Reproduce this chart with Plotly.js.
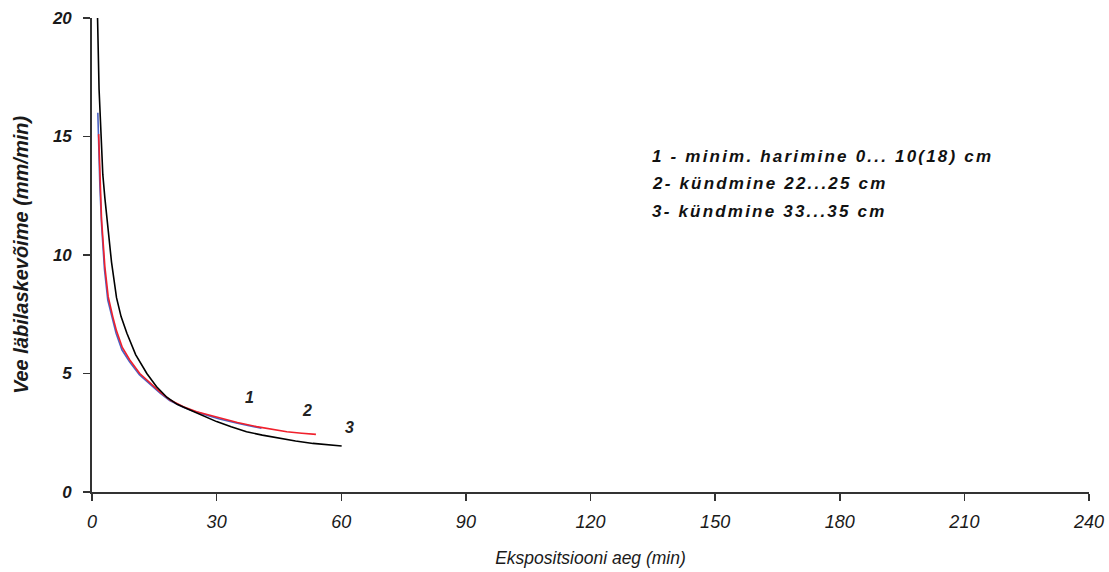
<!DOCTYPE html>
<html>
<head>
<meta charset="utf-8">
<script src="https://cdn.plot.ly/plotly-3.0.1.min.js"></script>
<style>
html,body{margin:0;padding:0;background:#fff;}
#chart{width:1109px;height:572px;}
#chart .legendline .annotation-text{letter-spacing:2.2px;}
</style>
</head>
<body>
<div id="chart"></div>
<script>
// Series 1 – minim. harimine 0...10(18) cm
const t1 = [1.4, 1.6, 1.9, 2.3, 3.0, 3.8, 4.9, 5.8, 7.2, 9.0, 11.4, 13.9, 16.4, 18.7, 22, 25, 28, 30.7, 35, 38, 40.8];
const y1 = [16.0, 14.6, 12.9, 11.3, 9.4, 8.1, 7.3, 6.7, 6.0, 5.5, 4.95, 4.55, 4.17, 3.86, 3.58, 3.38, 3.22, 3.08, 2.9, 2.78, 2.69];
// Series 2 – kündmine 22...25 cm
const t2 = [1.6, 1.9, 2.3, 3.1, 3.9, 5.0, 5.9, 7.3, 9.1, 11.5, 14.0, 16.5, 18.8, 22, 25.2, 28, 30.8, 35, 39.6, 43, 46.9, 50.5, 53.9];
const y2 = [15.1, 13.2, 11.5, 9.5, 8.24, 7.4, 6.8, 6.1, 5.57, 5.0, 4.59, 4.2, 3.88, 3.6, 3.39, 3.25, 3.11, 2.93, 2.76, 2.65, 2.54, 2.48, 2.43];
// Series 3 – kündmine 33...35 cm
const t3 = [1.3, 1.7, 2.2, 2.6, 3.1, 4.0, 4.7, 5.9, 7.0, 8.4, 10.5, 13.2, 15.5, 18.0, 20.5, 23.6, 27, 30.0, 33.5, 37.2, 41, 45.3, 49, 53.2, 57, 60.1];
const y3 = [20.3, 17.0, 15.0, 13.4, 12.4, 10.8, 9.7, 8.2, 7.4, 6.7, 5.8, 5.0, 4.45, 4.0, 3.7, 3.46, 3.2, 2.97, 2.75, 2.54, 2.4, 2.26, 2.15, 2.05, 2.0, 1.94];

const curveLabels = ["1", "2", "3"];
const curveLabelX = [38, 51.8, 62];
const curveLabelY = [3.97, 3.46, 2.74];

const legendLines = ["1 - minim. harimine 0... 10(18) cm", "2- kündmine 22...25 cm", "3- kündmine 33...35 cm"];

const xTicks = [0, 30, 60, 90, 120, 150, 180, 210, 240];
const yTicks = [0, 5, 10, 15, 20];

const bi = {family: "Liberation Sans, Arial, sans-serif", size: 17, color: "#1a1a1a", weight: "bold", style: "italic"};

const traces = [
  {x: t1, y: y1, mode: "lines", line: {color: "#4a62c4", width: 1.6}, hoverinfo: "skip"},
  {x: t2, y: y2, mode: "lines", line: {color: "#f0202c", width: 1.6}, hoverinfo: "skip"},
  {x: t3, y: y3, mode: "lines", line: {color: "#000000", width: 1.6}, hoverinfo: "skip"}
];

const L = 92, R = 20, T = 18, B = 80, W = 1109, H = 572;
const annotations = [];
curveLabels.forEach((s, i) => annotations.push({
  x: curveLabelX[i], y: curveLabelY[i], xref: "x", yref: "y", text: s, showarrow: false,
  font: Object.assign({}, bi, {size: 16, color: "#222"})
}));
legendLines.forEach((s, i) => annotations.push({
  x: (650 - L) / (W - L - R), y: 1 - (156 + i * 27.5 - T) / (H - T - B),
  xref: "paper", yref: "paper", text: s, showarrow: false, name: "legendline",
  xanchor: "left", yanchor: "middle", align: "left",
  font: Object.assign({}, bi, {size: 17, color: "#111"})
}));

const layout = {
  width: W, height: H,
  margin: {l: L, r: R, t: T, b: B},
  paper_bgcolor: "#fff", plot_bgcolor: "#fff",
  showlegend: false,
  xaxis: {
    range: [0, 240], tickvals: xTicks, ticktext: xTicks.map(String),
    showline: true, linecolor: "#333", linewidth: 1.8, mirror: false,
    ticks: "outside", ticklen: 7, tickcolor: "#333", tickwidth: 1.5,
    showgrid: false, zeroline: false, ticklabelstandoff: 6,
    tickfont: {family: "Liberation Sans, Arial, sans-serif", size: 18, color: "#1a1a1a", style: "italic"},
    title: {text: "Ekspositsiooni aeg (min)", standoff: 20,
      font: {family: "Liberation Sans, Arial, sans-serif", size: 17.5, color: "#1a1a1a", style: "italic"}}
  },
  yaxis: {
    range: [0, 20], tickvals: yTicks, ticktext: yTicks.map(String),
    showline: true, linecolor: "#333", linewidth: 1.8,
    ticks: "outside", ticklen: 7, tickcolor: "#333", tickwidth: 1.5,
    showgrid: false, zeroline: false, ticklabelstandoff: 8,
    tickfont: bi,
    title: {text: "Vee läbilaskevõime (mm/min)", standoff: 18, font: Object.assign({}, bi, {size: 20})}
  },
  annotations: annotations
};

Plotly.newPlot("chart", traces, layout, {staticPlot: true, displayModeBar: false}).then(gd => {
  // tag legend annotation groups so the letter-spacing style applies to them only
  const groups = gd.querySelectorAll(".annotation");
  groups.forEach((g, i) => { if (i >= curveLabels.length) g.classList.add("legendline"); });
});
</script>
</body>
</html>
